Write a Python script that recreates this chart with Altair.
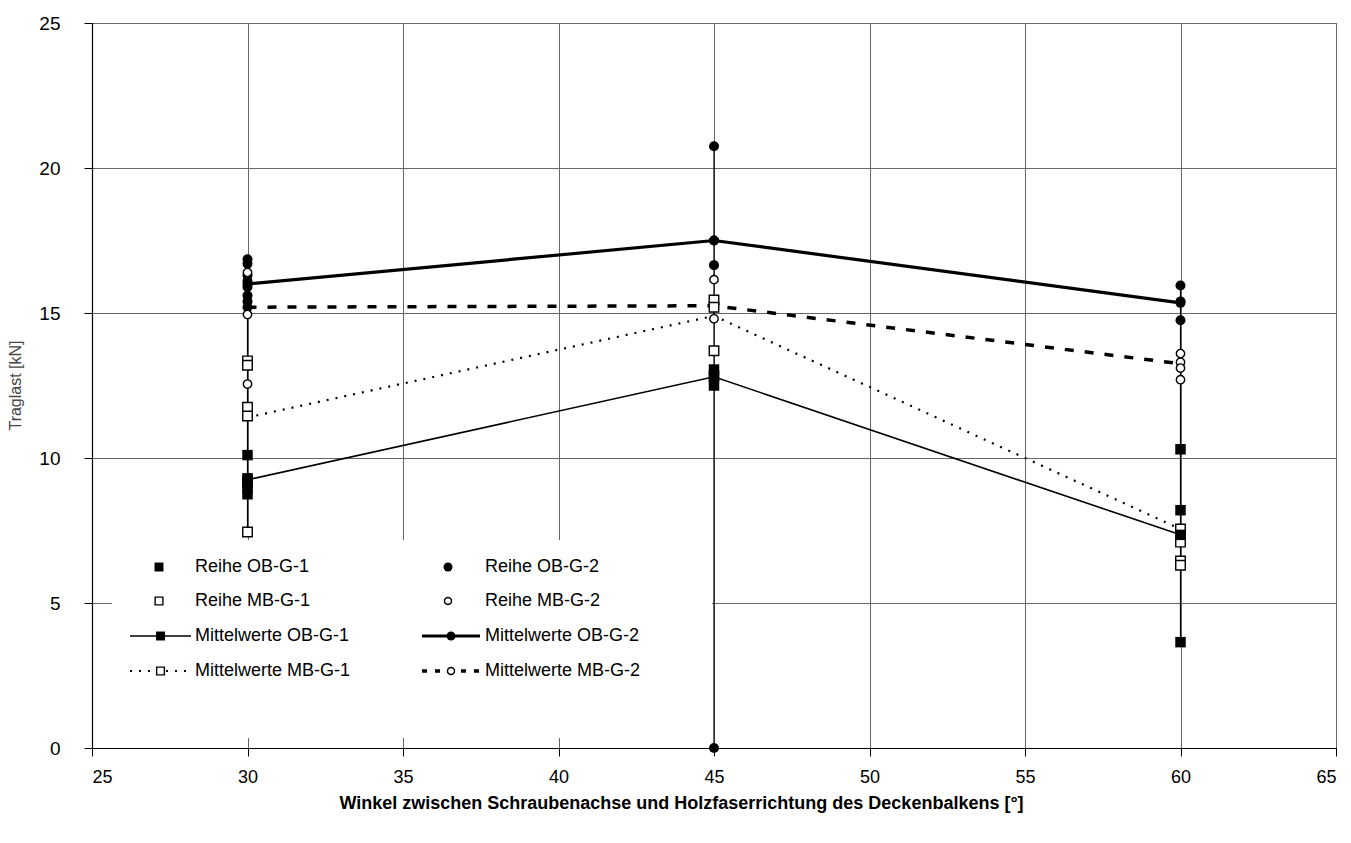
import altair as alt
import pandas as pd

# ---------------- data ----------------
ob_g1_x = [30, 30, 30, 30, 30, 45, 45, 45, 60, 60, 60, 60]
ob_g1_y = [10.1, 9.3, 9.15, 8.95, 8.75, 13.05, 12.85, 12.5, 10.3, 8.2, 7.45, 3.65]

mb_g1_x = [30, 30, 30, 30, 30, 45, 45, 45, 60, 60, 60, 60]
mb_g1_y = [13.35, 13.2, 11.75, 11.45, 7.45, 15.45, 15.2, 13.7, 7.55, 7.1, 6.45, 6.3]

ob_g2_x = [30, 30, 30, 30, 30, 30, 30, 30, 45, 45, 45, 45, 60, 60, 60]
ob_g2_y = [16.85, 16.7, 16.3, 16.1, 15.9, 15.6, 15.4, 15.2, 20.75, 17.5, 16.65, 0.0, 15.95, 15.4, 14.75]

mb_g2_x = [30, 30, 30, 45, 45, 60, 60, 60, 60]
mb_g2_y = [16.4, 14.95, 12.55, 16.15, 14.8, 13.6, 13.3, 13.1, 12.7]

mean_x = [30, 45, 60]
ob_g1_mean = [9.25, 12.8, 7.35]
mb_g1_mean = [11.4, 14.9, 7.55]
ob_g2_mean = [16.0, 17.5, 15.35]
mb_g2_mean = [15.2, 15.25, 13.25]

x_ticks = [25, 30, 35, 40, 45, 50, 55, 60, 65]
y_ticks = [0, 5, 10, 15, 20, 25]

x_title = "Winkel zwischen Schraubenachse und Holzfaserrichtung des Deckenbalkens [°]"
y_title = "Traglast [kN]"

# ---------------- tables ----------------
def pts(xs, ys):
    return pd.DataFrame({"w": xs, "t": ys})

all_x = ob_g1_x + mb_g1_x + ob_g2_x + mb_g2_x
all_y = ob_g1_y + mb_g1_y + ob_g2_y + mb_g2_y
hilo = pd.DataFrame({"w": all_x, "t": all_y}).groupby("w")["t"].agg(["min", "max"]).reset_index()

FONT = "Liberation Sans"
xs = alt.Scale(domain=[25, 65], nice=False, zero=False)
ys = alt.Scale(domain=[0, 25], nice=False)

X = alt.X("w:Q", scale=xs, axis=alt.Axis(
    values=x_ticks, title=x_title, titleX=589, titleY=55, titleAnchor=None,
    titleFontWeight="bold", titleFontSize=18, titleFont=FONT, titleColor="black",
    titleAlign="center", titleBaseline="middle",
    labelFontSize=18, labelPadding=12, tickSize=8))
Y = alt.Y("t:Q", scale=ys, axis=alt.Axis(
    values=y_ticks, title=y_title, titleX=-77, titleY=362, titleAngle=270,
    titleAlign="center", titleBaseline="middle", titleFontWeight="normal",
    titleFontSize=16, titleFont=FONT, titleColor="#444",
    labelFontSize=19, labelPadding=24, tickSize=8))

layers = []

# legend background (covers gridlines like the original)
one = pd.DataFrame({"a": [0]})
layers.append(alt.Chart(one).mark_rect(fill="white", stroke=None).encode(
    x=alt.value(20), x2=alt.value(620), y=alt.value(517), y2=alt.value(715)))

# high-low vertical lines
layers.append(alt.Chart(hilo).mark_rule(color="black", strokeWidth=1.2).encode(
    x=alt.X("w:Q", scale=xs), y=alt.Y("min:Q", scale=ys), y2="max:Q"))

# mean lines
def mean_line(vals, width, dash):
    df = pd.DataFrame({"w": mean_x, "t": vals})
    kw = dict(color="black", strokeWidth=width)
    if dash:
        kw["strokeDash"] = dash
    return alt.Chart(df).mark_line(**kw).encode(x=X, y=Y)

layers.append(mean_line(ob_g1_mean, 1.6, None))
layers.append(mean_line(mb_g1_mean, 2.2, [2, 7]))
layers.append(mean_line(ob_g2_mean, 3.2, None))
layers.append(mean_line(mb_g2_mean, 3.5, [9, 11]))

def scatter(xv, yv, shape, filled, size):
    return alt.Chart(pts(xv, yv)).mark_point(
        shape=shape, filled=filled, size=size, color="black",
        strokeWidth=1.4, opacity=1, fill="black" if filled else "white"
    ).encode(x=X, y=Y)

layers.append(scatter(ob_g1_x, ob_g1_y, "square", True, 110))
layers.append(scatter(mb_g1_x, mb_g1_y, "square", False, 90))
layers.append(scatter(ob_g2_x, ob_g2_y, "circle", True, 100))
layers.append(scatter(mb_g2_x, mb_g2_y, "circle", False, 70))
layers.append(scatter(mean_x, ob_g1_mean, "square", True, 110))
layers.append(scatter(mean_x, ob_g2_mean, "circle", True, 100))

# ---------------- manual legend ----------------
rows_y = [544, 578, 613, 648]
col_marker = [67, 356]
col_text = [103, 393]
col_line = [(38, 99), (330, 388)]

def leg_text(x, y, s):
    return alt.Chart(one).mark_text(align="left", baseline="middle", fontSize=18,
                                    font=FONT, color="black").encode(
        x=alt.value(x), y=alt.value(y), text=alt.value(s))

def leg_point(x, y, shape, filled, size):
    return alt.Chart(one).mark_point(shape=shape, filled=filled, size=size, color="black",
                                     strokeWidth=1.4, opacity=1,
                                     fill="black" if filled else "white").encode(
        x=alt.value(x), y=alt.value(y))

def leg_rule(x1, x2, y, width, dash):
    kw = dict(color="black", strokeWidth=width)
    if dash:
        kw["strokeDash"] = dash
    return alt.Chart(one).mark_rule(**kw).encode(x=alt.value(x1), x2=alt.value(x2), y=alt.value(y))

legend_items = [
    (0, 0, "Reihe OB-G-1", "square", True, 80, None),
    (1, 0, "Reihe OB-G-2", "circle", True, 80, None),
    (0, 1, "Reihe MB-G-1", "square", False, 60, None),
    (1, 1, "Reihe MB-G-2", "circle", False, 50, None),
    (0, 2, "Mittelwerte OB-G-1", "square", True, 80, (1.6, None)),
    (1, 2, "Mittelwerte OB-G-2", "circle", True, 80, (3.2, None)),
    (0, 3, "Mittelwerte MB-G-1", "square", False, 60, (2.2, [2, 7])),
    (1, 3, "Mittelwerte MB-G-2", "circle", False, 50, (3.5, [5, 8])),
]
for col, row, label, shape, filled, size, line in legend_items:
    y = rows_y[row]
    if line is not None:
        w, d = line
        layers.append(leg_rule(col_line[col][0], col_line[col][1], y, w, d))
        layers.append(leg_point((col_line[col][0] + col_line[col][1]) / 2, y, shape, filled, size))
    else:
        layers.append(leg_point(col_marker[col], y, shape, filled, size))
    layers.append(leg_text(col_text[col], y, label))

chart = alt.layer(*layers).properties(
    width=1244, height=725,
    padding={"left": 92, "top": 23, "right": 15, "bottom": 95},
    autosize=alt.AutoSizeParams(type="none"),
    background="white",
).configure_view(stroke="#555", strokeWidth=1).configure_axis(
    grid=True, gridColor="#666", gridWidth=1, domainColor="black", domainWidth=1.2,
    tickColor="black", labelColor="black", labelFont=FONT,
)

chart.save("out.html", embed_options={"renderer": "svg", "actions": False})
